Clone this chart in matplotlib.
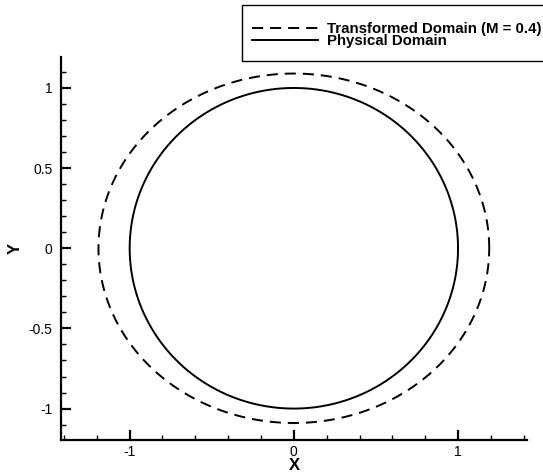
import numpy as np
import matplotlib
matplotlib.use("Agg")
import matplotlib.pyplot as plt
from matplotlib.patches import Rectangle

plt.rcParams['font.family'] = ['Liberation Sans', 'DejaVu Sans']
plt.rcParams['lines.scale_dashes'] = False

# Domain outlines: semi-axes along X and Y
series_labels = ["Transformed Domain (M = 0.4)", "Physical Domain"]
semi_axis_x = [1.19, 1.0]
semi_axis_y = [1.09, 1.0]
line_styles = [(0, (8.0, 5.0)), '-']

x_ticks_major = [-1, 0, 1]
y_ticks_major = [-1, -0.5, 0, 0.5, 1]
y_tick_labels = ["-1", "-0.5", "0", "0.5", "1"]

W, H = 543, 472
x0, x1, y0, y1 = 60.7, 527.0, 56.7, 440.0
fig = plt.figure(figsize=(W / 100, H / 100), dpi=100)
ax = fig.add_axes([x0 / W, 1 - y1 / H, (x1 - x0) / W, (y1 - y0) / H])

theta = np.linspace(0, 2 * np.pi, 721)
handles = []
for lab, a, b, ls in zip(series_labels, semi_axis_x, semi_axis_y, line_styles):
    h, = ax.plot(a * np.cos(theta), b * np.sin(theta), color='black',
                 lw=1.4, ls=ls, label=lab)
    handles.append(h)

ax.set_xlim(-1.42, 1.42)
ax.set_ylim(-1.196, 1.195)
ax.set_xticks(x_ticks_major)
ax.set_xticklabels([str(v) for v in x_ticks_major])
ax.set_xticks(np.arange(-1.4, 1.41, 0.2), minor=True)
ax.set_yticks(y_ticks_major)
ax.set_yticklabels(y_tick_labels)
ax.set_yticks(np.arange(-1.1, 1.11, 0.1), minor=True)

for side in ('top', 'right'):
    ax.spines[side].set_visible(False)
for side in ('left', 'bottom'):
    ax.spines[side].set_linewidth(1.6)

ax.tick_params(which='major', direction='in', length=7, width=1.6,
               labelsize=10)
ax.tick_params(axis='x', which='major', pad=3.5)
ax.tick_params(axis='y', which='major', pad=6)
ax.tick_params(which='minor', direction='in', length=3.5, width=1.0)

ax.set_xlabel("X", fontsize=12, fontweight='bold', va='center', ha='center')
ax.set_ylabel("Y", fontsize=12, fontweight='bold', va='center', ha='center')
ax.xaxis.set_label_coords(0.5003, -(465.5 - y1) / (y1 - y0))
ax.yaxis.set_label_coords((15 - x0) / (x1 - x0), (y1 - 248.3) / (y1 - y0))

# Legend box in figure pixels
fig.patches.append(Rectangle((242 / W, 1 - 61 / H), (W + 5 - 242) / W, 56 / H,
                             transform=fig.transFigure, fill=False,
                             edgecolor='black', lw=1.0))
leg = fig.legend(handles=handles, loc='upper left',
                 bbox_to_anchor=(252 / W, 1 - 22 / H),
                 frameon=False,
                 prop={'weight': 'bold', 'size': 10.8},
                 handlelength=4.4, handletextpad=0.6, labelspacing=-0.1,
                 borderpad=0.0, borderaxespad=0.0)

fig.savefig("out.png", dpi=100)
